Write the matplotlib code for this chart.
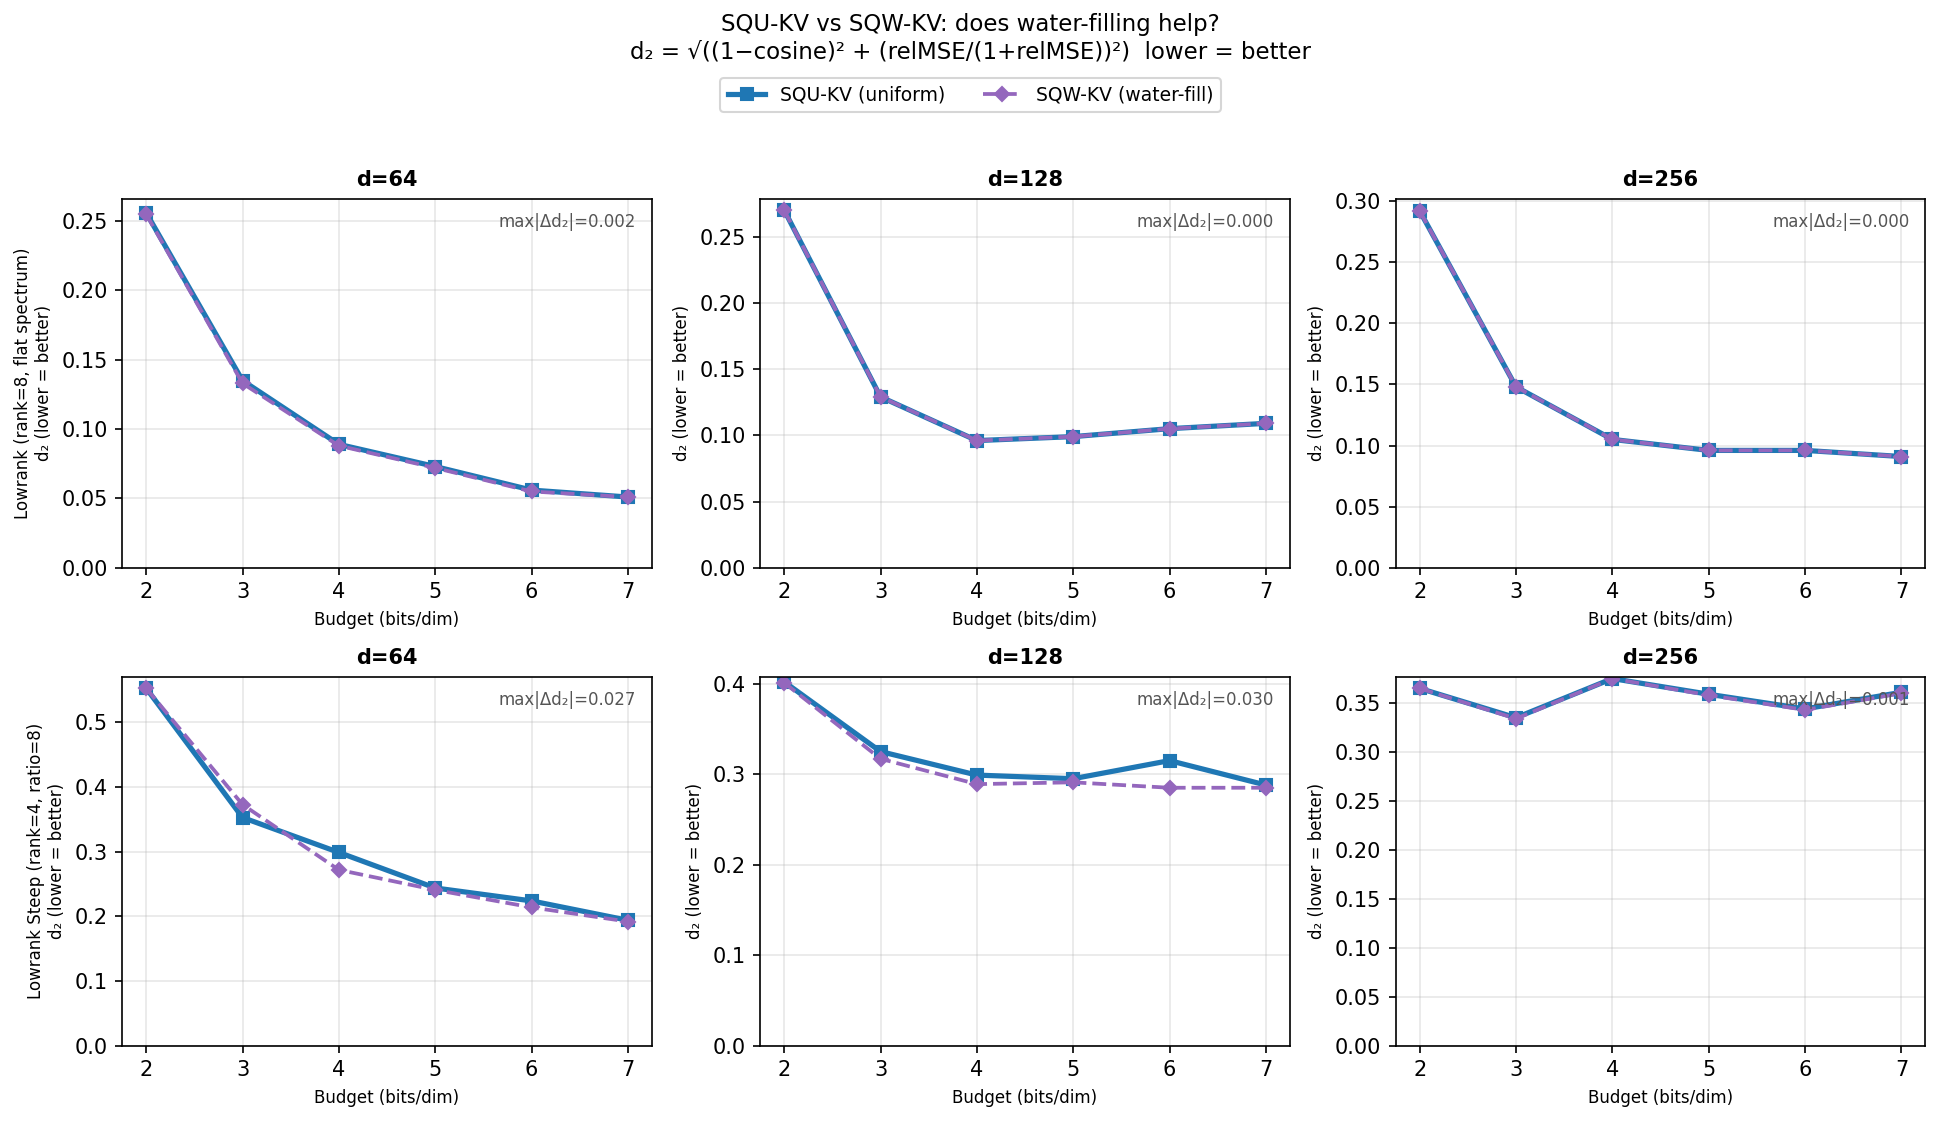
import matplotlib
matplotlib.use("Agg")
import matplotlib.pyplot as plt

budgets = [2, 3, 4, 5, 6, 7]
dims = [64, 128, 256]
row_labels = ["Lowrank (rank=8, flat spectrum)", "Lowrank Steep (rank=4, ratio=8)"]

# row 0: lowrank flat
flat_squ = {
    64:  [0.256, 0.135, 0.089, 0.073, 0.056, 0.051],
    128: [0.270, 0.129, 0.096, 0.099, 0.105, 0.109],
    256: [0.292, 0.148, 0.105, 0.096, 0.096, 0.091],
}
flat_sqw = {
    64:  [0.255, 0.133, 0.088, 0.072, 0.055, 0.051],
    128: [0.270, 0.129, 0.096, 0.099, 0.105, 0.109],
    256: [0.292, 0.148, 0.105, 0.096, 0.096, 0.091],
}
# row 1: lowrank steep
steep_squ = {
    64:  [0.553, 0.353, 0.299, 0.244, 0.224, 0.194],
    128: [0.402, 0.325, 0.299, 0.295, 0.315, 0.288],
    256: [0.365, 0.335, 0.375, 0.359, 0.344, 0.361],
}
steep_sqw = {
    64:  [0.553, 0.373, 0.272, 0.241, 0.214, 0.192],
    128: [0.401, 0.317, 0.289, 0.291, 0.285, 0.285],
    256: [0.365, 0.334, 0.375, 0.358, 0.343, 0.360],
}
max_diffs = [["0.002", "0.000", "0.000"], ["0.027", "0.030", "0.001"]]

fig = plt.figure(figsize=(1941 / 150, 1122 / 150), dpi=150)
lefts = [0.0629, 0.3916, 0.719]
bottoms = [0.494, 0.068]
w, h = 0.273, 0.329

handles = None
for r, (squ, sqw) in enumerate([(flat_squ, flat_sqw), (steep_squ, steep_sqw)]):
    for c, d in enumerate(dims):
        ax = fig.add_axes([lefts[c], bottoms[r], w, h])
        l1, = ax.plot(budgets, squ[d], '-', color='#1f77b4', lw=2.5, marker='s',
                      ms=6, label='SQU-KV (uniform)')
        l2, = ax.plot(budgets, sqw[d], '--', color='#9467bd', lw=1.8, marker='D',
                      ms=5, label='SQW-KV (water-fill)')
        handles = [l1, l2]
        ax.set_ylim(bottom=0)
        ax.set_xticks(budgets)
        ax.grid(True, alpha=0.3)
        ax.set_title(f"d={d}", fontsize=10, fontweight='bold')
        ax.set_xlabel("Budget (bits/dim)", fontsize=8)
        if c == 0:
            ax.set_ylabel(f"{row_labels[r]}\nd\u2082 (lower = better)", fontsize=8)
        else:
            ax.set_ylabel("d\u2082 (lower = better)", fontsize=8)
        ax.text(0.97, 0.96, f"max|\u0394d\u2082|={max_diffs[r][c]}", transform=ax.transAxes,
                ha='right', va='top', fontsize=8, color='#555555')

fig.suptitle("SQU-KV vs SQW-KV: does water-filling help?\n"
             "d\u2082 = \u221a((1\u2212cosine)\u00b2 + (relMSE/(1+relMSE))\u00b2)  lower = better",
             fontsize=11, y=0.988)
fig.legend(handles=handles, loc='upper center', ncol=2, fontsize=9,
           bbox_to_anchor=(0.5, 0.939))
fig.savefig("out.png", dpi=150)
